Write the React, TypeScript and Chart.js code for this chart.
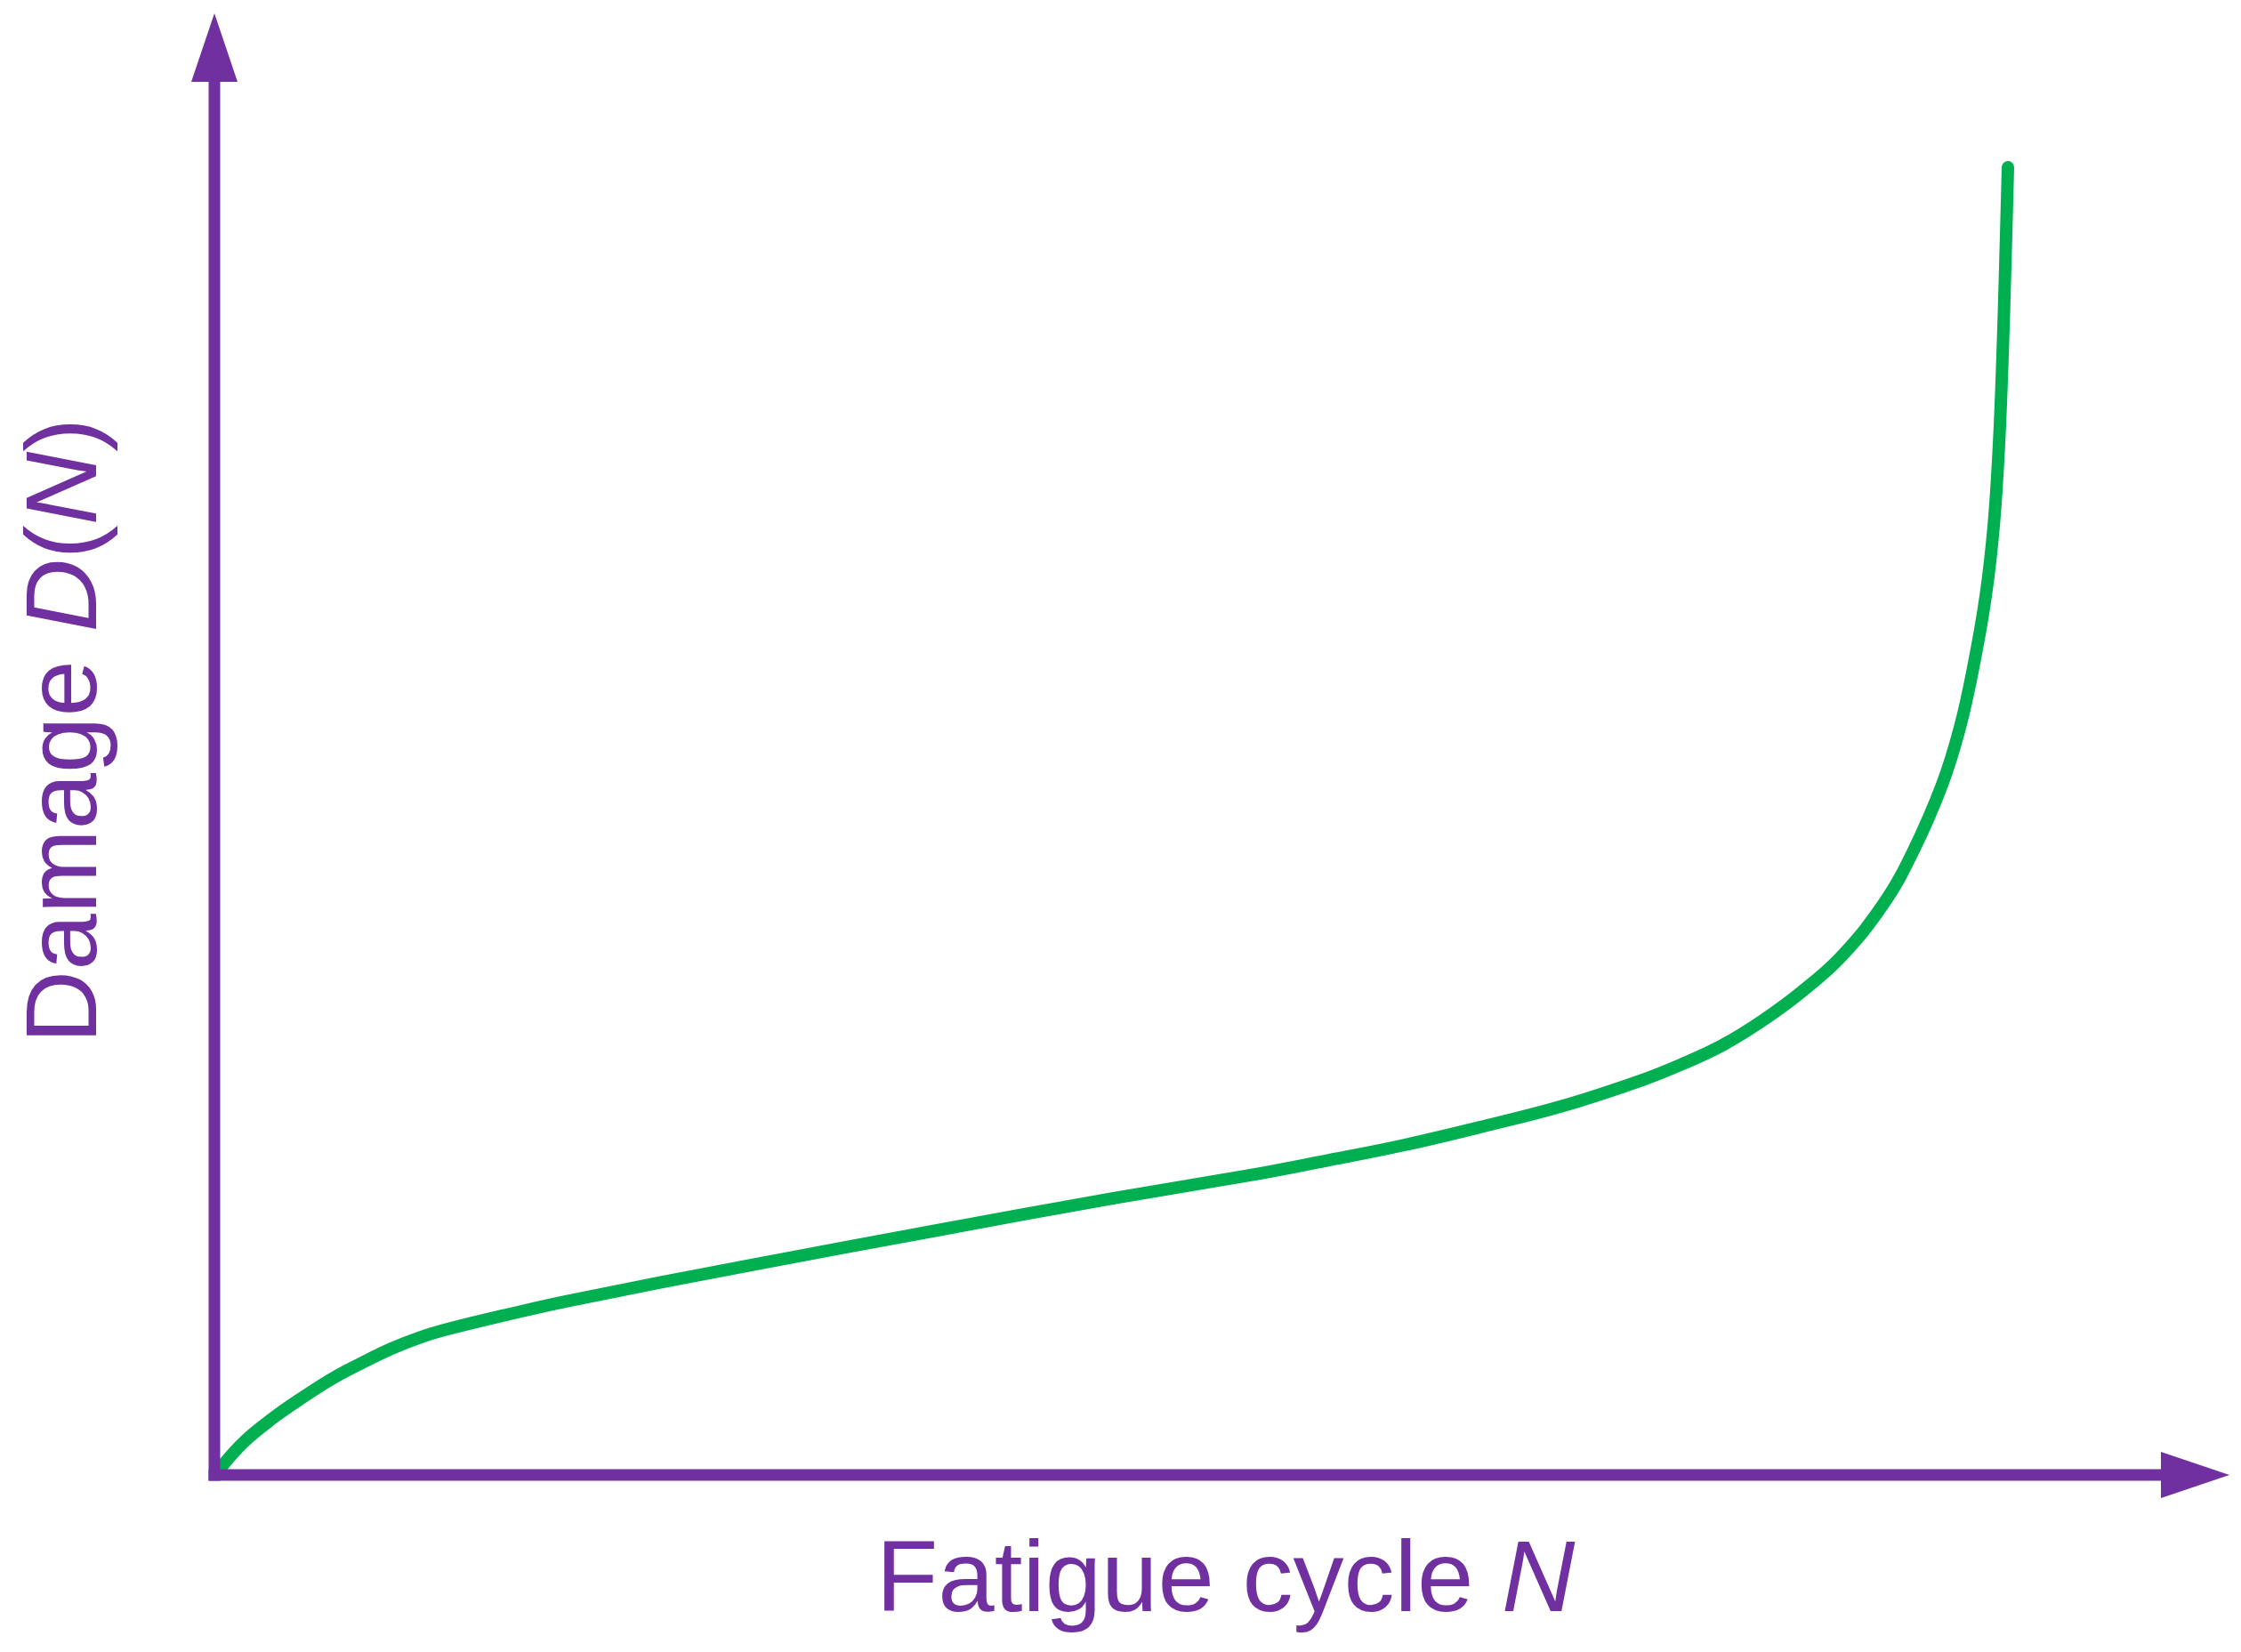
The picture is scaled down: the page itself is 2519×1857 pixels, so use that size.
import React, { useEffect, useRef } from 'react';
import { Chart, registerables } from 'chart.js';

Chart.register(...registerables);

// Normalised fatigue life N/Nf (x) and damage D(N) (y)
const cycleRatio = [
  0, 0.0159, 0.0327, 0.0491, 0.0655, 0.0823, 0.0987, 0.1151, 0.1319, 0.1647,
  0.1979, 0.2991, 0.4003, 0.5015, 0.5749, 0.619, 0.6637, 0.7078, 0.752, 0.7961,
  0.8185, 0.8408, 0.8626, 0.8849, 0.9072, 0.9306, 0.9469, 0.9633, 0.9732, 0.9807,
  0.9876, 0.9921, 0.995, 0.997, 0.9985, 1.0,
];
const damage = [
  0, 0.0245, 0.0435, 0.0592, 0.0735, 0.0857, 0.0966, 0.1054, 0.1122, 0.1231,
  0.1333, 0.1605, 0.1864, 0.2116, 0.2286, 0.2401, 0.2524, 0.2667, 0.2823, 0.302,
  0.3143, 0.3286, 0.3469, 0.3694, 0.3966, 0.4367, 0.4762, 0.5279, 0.5714, 0.6177,
  0.6721, 0.7265, 0.7878, 0.8558, 0.9238, 1.0,
];

const xTitleParts = [
  { text: 'Fatigue cycle ', italic: false },
  { text: 'N', italic: true },
];
const yTitleParts = [
  { text: 'Damage ', italic: false },
  { text: 'D', italic: true },
  { text: '(', italic: false },
  { text: 'N', italic: true },
  { text: ')', italic: false },
];

const PURPLE = '#7030A0';
const GREEN = '#00B050';
const FONT_FAMILY = '"Liberation Sans", Arial, Helvetica, sans-serif';
const FONT_SIZE = 114;

type Part = { text: string; italic: boolean };

function drawParts(ctx: CanvasRenderingContext2D, parts: Part[], cx: number) {
  const fonts = parts.map((p) => `${p.italic ? 'italic ' : ''}${FONT_SIZE}px ${FONT_FAMILY}`);
  const widths = parts.map((p, i) => {
    ctx.font = fonts[i];
    return ctx.measureText(p.text).width;
  });
  const total = widths.reduce((a, b) => a + b, 0);
  let x = cx - total / 2;
  parts.forEach((p, i) => {
    ctx.font = fonts[i];
    ctx.fillText(p.text, x, 0);
    x += widths[i];
  });
}

const arrowAxesPlugin = {
  id: 'arrowAxes',
  afterDatasetsDraw(chart: any) {
    const { ctx, chartArea, scales } = chart;
    const xs = scales.x;
    const ys = scales.y;
    const x0 = xs.getPixelForValue(0);
    const y0 = ys.getPixelForValue(0);
    const top = chartArea.top;
    const right = chartArea.right;
    const head = 77;
    const half = 26;
    const lw = 13;

    ctx.save();
    ctx.strokeStyle = PURPLE;
    ctx.fillStyle = PURPLE;
    ctx.lineWidth = lw;
    ctx.lineCap = 'butt';

    ctx.beginPath();
    ctx.moveTo(x0, y0 + lw / 2);
    ctx.lineTo(x0, top + head);
    ctx.stroke();

    ctx.beginPath();
    ctx.moveTo(x0 - lw / 2, y0);
    ctx.lineTo(right - head, y0);
    ctx.stroke();

    ctx.beginPath();
    ctx.moveTo(x0, top);
    ctx.lineTo(x0 + half, top + head);
    ctx.lineTo(x0 - half, top + head);
    ctx.closePath();
    ctx.fill();

    ctx.beginPath();
    ctx.moveTo(right, y0);
    ctx.lineTo(right - head, y0 - half);
    ctx.lineTo(right - head, y0 + half);
    ctx.closePath();
    ctx.fill();

    ctx.textBaseline = 'alphabetic';
    ctx.textAlign = 'left';

    // x-axis title
    ctx.save();
    ctx.translate(0, y0 + 153);
    drawParts(ctx, xTitleParts, (x0 + right) / 2 + 4);
    ctx.restore();

    // y-axis title
    ctx.save();
    ctx.translate(x0 - 133, 0);
    ctx.rotate(-Math.PI / 2);
    drawParts(ctx, yTitleParts, -((top + y0) / 2 - 15));
    ctx.restore();

    ctx.restore();
  },
};

export default function App() {
  const canvasRef = useRef<HTMLCanvasElement | null>(null);

  useEffect(() => {
    const canvas = canvasRef.current;
    if (!canvas) return;
    const chart = new Chart(canvas, {
      type: 'line',
      data: {
        datasets: [
          {
            data: cycleRatio.map((x, i) => ({ x, y: damage[i] })),
            borderColor: GREEN,
            backgroundColor: GREEN,
            borderWidth: 14,
            pointRadius: 0,
            pointHoverRadius: 0,
            tension: 0.4,
            borderCapStyle: 'round',
            borderJoinStyle: 'round',
            fill: false,
          } as any,
        ],
      },
      options: {
        responsive: false,
        animation: false,
        devicePixelRatio: 1,
        layout: { padding: { left: 241, right: 13, top: 15, bottom: 199 } },
        scales: {
          x: { type: 'linear', min: 0, max: 1.1235, display: false },
          y: { type: 'linear', min: 0, max: 1.1177, display: false },
        },
        plugins: {
          legend: { display: false },
          tooltip: { enabled: false },
          title: { display: false },
        },
        events: [],
      },
      plugins: [arrowAxesPlugin],
    });
    return () => chart.destroy();
  }, []);

  return (
    <div style={{ position: 'absolute', left: 0, top: 0, width: 2519, height: 1857, background: '#ffffff' }}>
      <canvas ref={canvasRef} width={2519} height={1857} />
    </div>
  );
}
